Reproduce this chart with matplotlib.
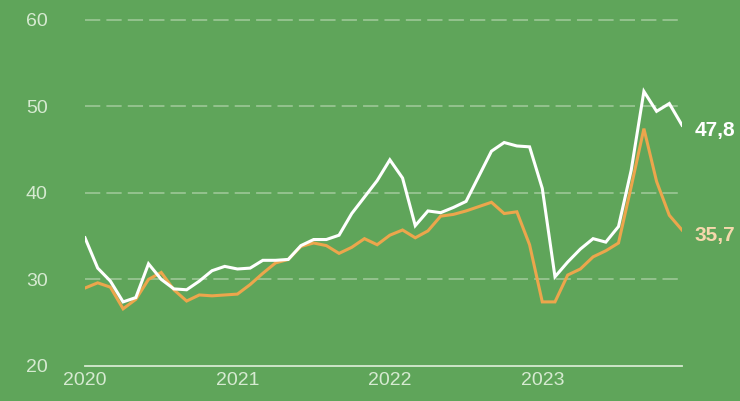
import matplotlib
matplotlib.use("Agg")
import matplotlib.pyplot as plt
import numpy as np

plt.rcParams['font.family'] = ['Liberation Sans', 'DejaVu Sans']

# Monthly values, Jan 2020 - Dec 2023
white_series = [34.8, 31.3, 29.8, 27.4, 27.9, 31.8, 30.0, 28.9, 28.8, 29.8, 31.0, 31.5,
                31.2, 31.3, 32.2, 32.2, 32.3, 33.9, 34.6, 34.6, 35.1, 37.6, 39.5, 41.4,
                43.8, 41.7, 36.2, 37.9, 37.7, 38.3, 39.0, 41.9, 44.8, 45.8, 45.4, 45.3,
                40.5, 30.3, 32.0, 33.5, 34.7, 34.3, 36.1, 42.6, 51.7, 49.4, 50.3, 47.8]
orange_series = [29.0, 29.6, 29.1, 26.6, 27.7, 30.0, 30.8, 28.8, 27.5, 28.2, 28.1, 28.2,
                 28.3, 29.4, 30.7, 31.9, 32.3, 33.8, 34.2, 33.9, 33.0, 33.7, 34.7, 34.0,
                 35.1, 35.7, 34.8, 35.6, 37.3, 37.5, 37.9, 38.4, 38.9, 37.6, 37.8, 34.0,
                 27.4, 27.4, 30.5, 31.2, 32.6, 33.3, 34.2, 40.7, 47.4, 41.3, 37.4, 35.7]
year_labels = ["2020", "2021", "2022", "2023"]
y_ticks = [20, 30, 40, 50, 60]

bg = "#5fa55a"
white_col = "#ffffff"
orange_col = "#eca64c"
orange_text = "#f6d8ad"
tick_col = "#d6ead1"
grid_col = "#b8d6b2"

fig = plt.figure(figsize=(7.40, 4.01), dpi=100, facecolor=bg)
ax = fig.add_axes([85/740, 35/401, (682-85)/740, (366-19.5)/401], facecolor=bg)

x = np.arange(len(white_series))
ax.set_xlim(0, len(x) - 1)
ax.set_ylim(20, 60)

for yv in y_ticks[1:]:
    ax.axhline(yv, color=grid_col, lw=1.1, ls=(0, (10, 4)), alpha=0.75, zorder=1, clip_on=False)
ax.axhline(20, color=tick_col, lw=1.3, zorder=1, clip_on=False)

ax.plot(x, orange_series, color=orange_col, lw=2.2, zorder=3, solid_joinstyle='miter')
ax.plot(x, white_series, color=white_col, lw=2.2, zorder=4, solid_joinstyle='miter')

ax.annotate(f"{white_series[-1]:.1f}".replace(".", ","), (x[-1], white_series[-1]),
            xytext=(9, -4), textcoords="offset points", color=white_col,
            fontsize=15, fontweight="semibold", va="center", ha="left", annotation_clip=False)
ax.annotate(f"{orange_series[-1]:.1f}".replace(".", ","), (x[-1], orange_series[-1]),
            xytext=(9, -4), textcoords="offset points", color=orange_text,
            fontsize=15, fontweight="semibold", va="center", ha="left", annotation_clip=False)

ax.set_yticks(y_ticks)
ax.set_yticklabels([str(v) for v in y_ticks])
ax.set_xticks([0, 12, 24, 36])
ax.set_xticklabels(year_labels)
ax.tick_params(axis="y", length=0, pad=27, labelsize=14, labelcolor=tick_col)
ax.tick_params(axis="x", length=0, pad=4, labelsize=14, labelcolor=tick_col)
for s in ax.spines.values():
    s.set_visible(False)

fig.savefig("out.png", dpi=100, facecolor=bg)
